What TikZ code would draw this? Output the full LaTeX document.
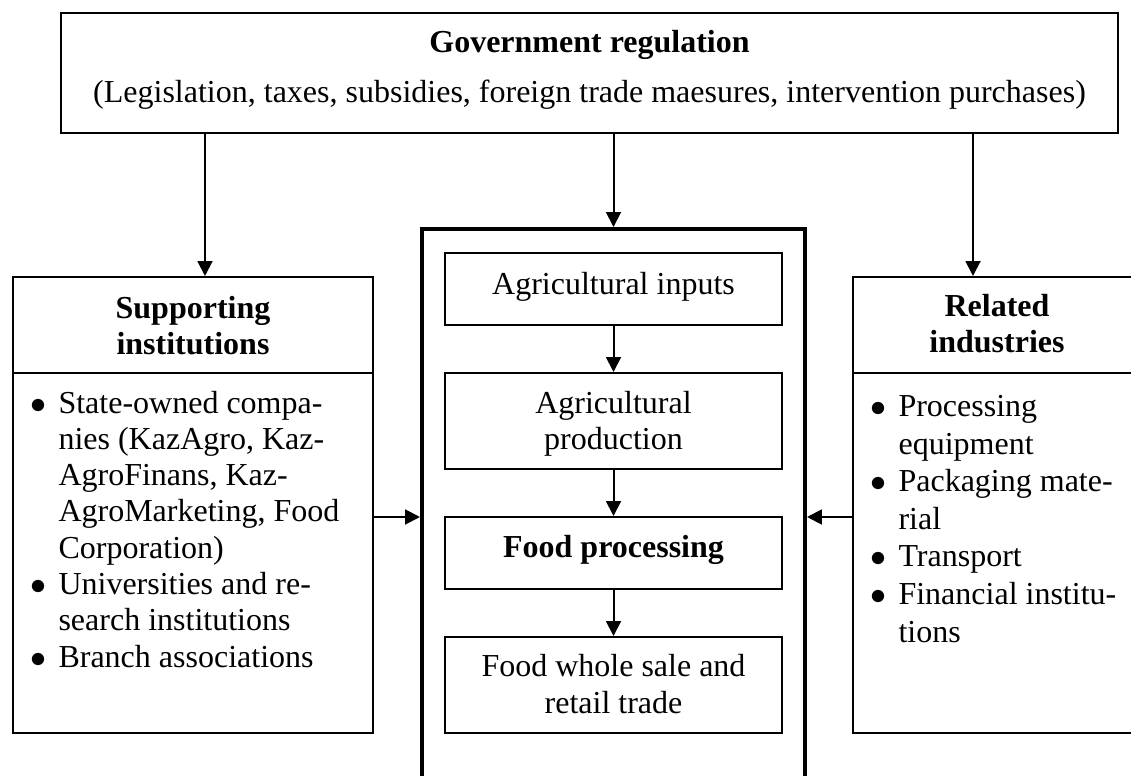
\documentclass[tikz,border=0pt]{standalone}
\usepackage{fontspec}
\setmainfont{Liberation Serif}
\usetikzlibrary{arrows.meta,fit}
\begin{document}
\begin{tikzpicture}[x=0.375pt,y=-0.375pt,
  box/.style={draw,line width=0.75pt,inner sep=0pt},
  corebox/.style={draw,line width=1.5pt,inner sep=0pt},
  txt/.style={inner sep=0pt,font=\fontsize{12}{13.8}\selectfont},
  btxt/.style={inner sep=0pt,font=\fontsize{12}{13.8}\selectfont\bfseries},
  ltxt/.style={inner sep=0pt,align=left,anchor=base west,font=\fontsize{12}{13.6}\selectfont},
  rtxt/.style={inner sep=0pt,align=left,anchor=base west,font=\fontsize{12}{14.1}\selectfont},
  divider/.style={line width=0.75pt},
  arr/.style={line width=0.75pt,-{Triangle[length=5.6pt,width=5.6pt]}},
]
\newcommand{\bul}{\llap{$\bullet$\hspace{4.5pt}}}
\useasboundingbox (0,0) rectangle (1131,776);

% boxes
\node[box,fit={(61,13)(1118,133)}] (gov) {};
\node[box,fit={(13,277)(373,733)}] (lbox) {};
\node[box,fit={(853,277)(1145,733)}] (rbox) {};
\node[corebox,fit={(422,229)(805,795)}] (core) {};
\node[box,fit={(445,253)(782,325)}] (b1) {};
\node[box,fit={(445,373)(782,469)}] (b2) {};
\node[box,fit={(445,517)(782,589)}] (b3) {};
\node[box,fit={(445,637)(782,733)}] (b4) {};

% dividers
\coordinate (hdiv) at (0,373);
\draw[divider] (lbox.west |- hdiv) -- (lbox.east |- hdiv);
\draw[divider] (rbox.west |- hdiv) -- (rbox.east |- hdiv);

% texts (multi-line nodes are anchored at the baseline of their last line)
\node[btxt,anchor=base] (govt) at (589.5,53) {Government regulation};
\node[txt,anchor=base] (govs) at (589.5,103) {(Legislation, taxes, subsidies, foreign trade maesures, intervention purchases)};

\node[btxt,anchor=base,align=center] (lhead) at (193,355) {Supporting\\institutions};
\node[btxt,anchor=base,align=center] (rhead) at (997,353) {Related\\industries};

\node[ltxt] (lbody) at (58,667) {\bul State-owned compa-\\nies (KazAgro, Kaz-\\AgroFinans, Kaz-\\AgroMarketing, Food\\Corporation)\\\bul Universities and re-\\search institutions\\\bul Branch associations};
\node[rtxt] (rbody) at (898,642) {\bul Processing\\equipment\\\bul Packaging mate-\\rial\\\bul Transport\\\bul Financial institu-\\tions};

\node[txt,anchor=base] (t1) at (613.5,295) {Agricultural inputs};
\node[txt,anchor=base,align=center] (t2) at (613.5,450) {Agricultural\\production};
\node[btxt,anchor=base] (t3) at (613.5,558) {Food processing};
\node[txt,anchor=base,align=center] (t4) at (613.5,713) {Food whole sale and\\retail trade};

% arrows
\coordinate (la) at (205,0);
\coordinate (ra) at (973,0);
\coordinate (side) at (0,517);
\draw[arr] (gov.south -| la) -- (lbox.north -| la);
\draw[arr] (gov.south -| ra) -- (rbox.north -| ra);
\draw[arr] (gov.south -| core.north) -- (core.north);
\draw[arr] (b1.south) -- (b2.north);
\draw[arr] (b2.south) -- (b3.north);
\draw[arr] (b3.south) -- (b4.north);
\draw[arr] (lbox.east |- side) -- (core.west |- side);
\draw[arr] (rbox.west |- side) -- (core.east |- side);
\end{tikzpicture}
\end{document}
